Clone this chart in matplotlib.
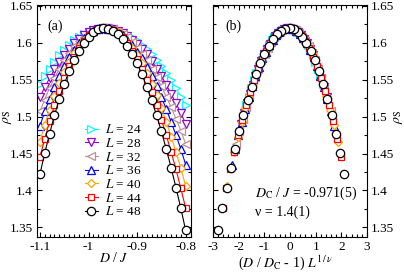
import matplotlib
matplotlib.use("Agg")
import matplotlib.pyplot as plt
import numpy as np
from matplotlib.ticker import MultipleLocator, FuncFormatter

plt.rcParams['font.family'] = ['Liberation Serif', 'DejaVu Serif']
plt.rcParams['mathtext.fontset'] = 'stix'

# critical point and exponent from the scaling fit
Dc = -0.971
nu = 1.4

D = [-1.10, -1.09, -1.08, -1.07, -1.06, -1.05, -1.04, -1.03, -1.02, -1.01,
     -1.00, -0.99, -0.98, -0.97, -0.96, -0.95, -0.94, -0.93, -0.92, -0.91,
     -0.90, -0.89, -0.88, -0.87, -0.86, -0.85, -0.84, -0.83, -0.82, -0.81, -0.80]

rho24 = [1.544, 1.555, 1.565, 1.574, 1.583, 1.590, 1.597, 1.603, 1.608, 1.612, 1.615,
         1.617, 1.619, 1.620, 1.620, 1.619, 1.617, 1.615, 1.611, 1.607, 1.603,
         1.597, 1.591, 1.584, 1.576, 1.568, 1.559, 1.549, 1.538, 1.527, 1.515]
rho28 = [1.526, 1.540, 1.552, 1.564, 1.574, 1.583, 1.592, 1.599, 1.605, 1.610, 1.614,
         1.617, 1.619, 1.620, 1.620, 1.619, 1.616, 1.613, 1.609, 1.604, 1.598,
         1.591, 1.584, 1.575, 1.565, 1.555, 1.543, 1.531, 1.518, 1.505, 1.490]
rho32 = [1.507, 1.523, 1.539, 1.552, 1.565, 1.576, 1.586, 1.595, 1.602, 1.608, 1.613,
         1.617, 1.619, 1.620, 1.620, 1.618, 1.615, 1.612, 1.607, 1.601, 1.593,
         1.585, 1.576, 1.565, 1.554, 1.541, 1.527, 1.513, 1.497, 1.481, 1.463]
rho36 = [1.487, 1.507, 1.524, 1.540, 1.555, 1.568, 1.580, 1.590, 1.599, 1.606, 1.612,
         1.616, 1.619, 1.620, 1.619, 1.618, 1.615, 1.610, 1.604, 1.597, 1.588,
         1.579, 1.567, 1.555, 1.541, 1.527, 1.510, 1.493, 1.475, 1.456, 1.435]
rho40 = [1.466, 1.489, 1.509, 1.528, 1.545, 1.560, 1.574, 1.586, 1.596, 1.604, 1.611,
         1.615, 1.618, 1.620, 1.619, 1.617, 1.614, 1.608, 1.601, 1.593, 1.583,
         1.572, 1.559, 1.544, 1.529, 1.511, 1.493, 1.473, 1.452, 1.430, 1.406]
rho44 = [1.445, 1.470, 1.494, 1.515, 1.535, 1.552, 1.568, 1.581, 1.593, 1.602, 1.610,
         1.615, 1.618, 1.620, 1.619, 1.617, 1.613, 1.607, 1.599, 1.589, 1.578,
         1.564, 1.550, 1.533, 1.515, 1.496, 1.475, 1.452, 1.429, 1.403, 1.376]
rho48 = [1.422, 1.451, 1.477, 1.502, 1.524, 1.544, 1.561, 1.576, 1.589, 1.600, 1.608,
         1.614, 1.618, 1.620, 1.619, 1.616, 1.612, 1.605, 1.596, 1.585, 1.572,
         1.557, 1.540, 1.522, 1.502, 1.480, 1.456, 1.431, 1.404, 1.376, 1.346]

sizes = [24, 28, 32, 36, 40, 44, 48]
data = [rho24, rho28, rho32, rho36, rho40, rho44, rho48]
colors = ['#00ffff', '#9400d3', '#bc8f8f', '#0000ff', '#ffa500', '#ff0000', '#000000']
markers = ['>', 'v', '<', '^', 'D', 's', 'o']
msizes = [5.5, 5.5, 5.5, 5.5, 4.2, 5.0, 6.0]

fig = plt.figure(figsize=(4.04, 2.74), dpi=100)
axa = fig.add_axes([0.0916, 0.135, 0.3812, 0.8468])
axb = fig.add_axes([0.5272, 0.135, 0.3812, 0.8468])

D = np.array(D)
for L, rho, c, m, ms in zip(sizes, data, colors, markers, msizes):
    axa.plot(D, rho, '-', color=c, lw=0.8, marker=m, ms=ms, mfc='white',
             mec=c, mew=0.9, label='$L$ = %d' % L)
    # data collapse
    x = (D / Dc - 1) * L ** (1 / nu)
    axb.plot(x, rho, ls='none', marker=m, ms=ms, mfc='white', mec=c, mew=0.9)

fmt = FuncFormatter(lambda v, p: '%g' % round(v, 3))
for ax in (axa, axb):
    ax.set_ylim(1.337, 1.651)
    ax.yaxis.set_major_locator(MultipleLocator(0.05))
    ax.yaxis.set_minor_locator(MultipleLocator(0.025))
    ax.yaxis.set_major_formatter(fmt)
    ax.xaxis.set_major_formatter(fmt)
    ax.tick_params(which='both', direction='in', top=True, right=True,
                   labelsize=9.5, pad=3)
    ax.tick_params(which='major', length=3.8, width=0.8)
    ax.tick_params(which='minor', length=2, width=0.8)
    for s in ax.spines.values():
        s.set_linewidth(0.8)

axa.set_xlim(-1.106, -0.789)
axa.xaxis.set_major_locator(MultipleLocator(0.1))
axa.xaxis.set_minor_locator(MultipleLocator(0.01))
axa.set_xlabel('$D$ / $J$', fontsize=10)
axa.xaxis.set_label_coords(0.5, -0.06)
axa.set_ylabel(r'$\rho_{\rm S}$', fontsize=10)
axa.yaxis.set_label_coords(-0.15, 0.52)
axa.text(0.065, 0.895, '(a)', transform=axa.transAxes, fontsize=10)
axa.legend(loc='upper left', bbox_to_anchor=(0.31, 0.49), frameon=False,
           fontsize=9.5, handlelength=1.0, handletextpad=0.5, labelspacing=0.05,
           borderpad=0, borderaxespad=0)

axb.set_xlim(-3, 3)
axb.xaxis.set_major_locator(MultipleLocator(1))
axb.xaxis.set_minor_locator(MultipleLocator(0.2))
axb.tick_params(labelleft=False, labelright=True)
axb.yaxis.set_label_position('right')
axb.set_ylabel(r'$\rho_{\rm S}$', fontsize=10)
axb.yaxis.set_label_coords(1.165, 0.52)
axb.set_xlabel(r'($D$ / $D_{\rm C}$ - 1) $L^{1\,/\,\nu}$', fontsize=10)
axb.xaxis.set_label_coords(0.47, -0.07)
axb.text(0.08, 0.895, '(b)', transform=axb.transAxes, fontsize=10)
axb.text(0.27, 0.19, '$D_{\\rm C}$ / $J$ = -0.971(5)', transform=axb.transAxes,
         fontsize=10, va='center')
axb.text(0.27, 0.105, 'ν = 1.4(1)', transform=axb.transAxes, fontsize=10,
         va='center')

fig.savefig('out.png', dpi=100)
